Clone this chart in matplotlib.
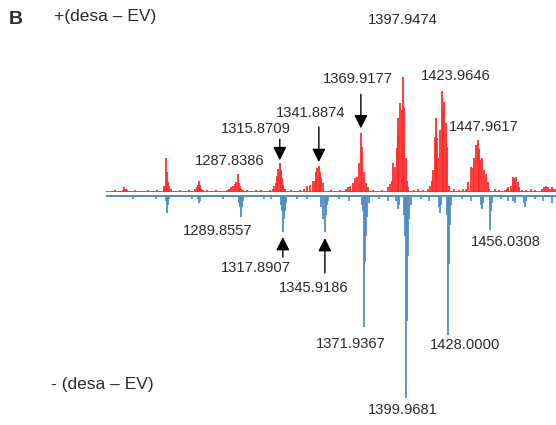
import matplotlib
matplotlib.use("Agg")
import matplotlib.pyplot as plt

plt.rcParams['font.family'] = ['Liberation Sans', 'DejaVu Sans']

# ---- upper trace: +(desa - EV), relative intensity (%) ----
pos_mz = [
    1211.0, 1212.3, 1213.0, 1214.0,
    1238.6, 1239.3, 1239.9, 1240.5, 1241.2, 1242.0, 1243.0,
    1259.6, 1260.4, 1261.3, 1262.0, 1262.7, 1263.5, 1264.5,
    1280.5, 1282.0, 1283.3, 1284.6, 1285.9, 1286.6, 1287.8386, 1288.5, 1289.3, 1290.3, 1291.5,
    1309.5, 1311.0, 1312.2, 1313.0, 1314.0, 1314.9, 1315.8709, 1316.6, 1317.3, 1318.2, 1319.3,
    1331.9, 1333.9, 1335.9, 1337.9, 1339.1, 1339.9, 1340.6, 1341.8874, 1342.6, 1343.6, 1344.9,
    1359.9, 1361.3, 1362.6, 1364.4, 1365.9, 1367.3, 1368.6, 1369.9177, 1370.8, 1371.9, 1373.3, 1374.6,
    1388.0, 1389.3, 1390.4, 1391.5, 1392.6, 1393.7, 1394.4, 1394.9, 1395.9, 1397.1, 1397.9474,
    1398.8, 1399.9, 1400.6, 1401.6,
    1414.8, 1416.0, 1417.1, 1418.2, 1419.3, 1420.0, 1420.8, 1421.5, 1422.6, 1423.9646,
    1424.8, 1425.6, 1426.4, 1427.5, 1428.6,
    1440.3, 1441.5, 1443.3, 1444.4, 1445.5, 1446.6, 1447.9617, 1448.6, 1449.5, 1450.6,
    1451.8, 1453.1, 1454.4, 1455.5,
    1466.0, 1467.3, 1468.2, 1469.9, 1471.1, 1471.7, 1472.2, 1473.3, 1474.4, 1475.5, 1477.0,
    1490.5, 1491.8, 1493.1, 1494.4, 1495.7, 1497.0, 1498.3,
]
pos_int = [
    2, 4, 3, 2,
    5, 5, 30, 17, 9, 5, 3,
    3, 4, 6, 10, 6, 3, 2,
    2, 3, 4, 5, 7, 9, 16, 8, 5, 3, 2,
    2, 3, 5, 8, 14, 20, 25, 19, 12, 6, 3,
    3, 5, 6, 10, 10, 17, 21, 23, 17, 12, 8,
    3, 4, 5, 8, 12, 13, 25, 51, 39, 17, 8, 4,
    4, 7, 10, 25, 22, 38, 50, 64, 77, 71, 100,
    73, 30, 10, 4,
    3, 5, 10, 19, 48, 64, 47, 30, 54, 88,
    70, 78, 60, 39, 5,
    3, 9, 22, 21, 30, 41, 45, 37, 28, 30,
    19, 16, 9, 3,
    2, 3, 4, 5, 13, 10, 12, 13, 9, 4, 2,
    3, 4, 5, 4, 3, 4, 3,
]
pos_noise_mz = [1203, 1206, 1209, 1216, 1219, 1222, 1225, 1228, 1231, 1234, 1246, 1249,
                1252, 1255, 1267, 1270, 1273, 1276, 1294, 1297, 1300, 1303, 1306, 1323,
                1326, 1329, 1350, 1353, 1356, 1378, 1381, 1384, 1405, 1408, 1411, 1432,
                1435, 1438, 1459, 1462, 1480, 1483, 1486, 1499]
pos_noise_int = [1, 2, 1, 1, 2, 1, 1, 2, 1, 2, 1, 2,
                 1, 2, 2, 1, 2, 1, 2, 1, 2, 2, 1, 2,
                 1, 2, 2, 1, 2, 2, 1, 2, 2, 3, 2, 3,
                 2, 3, 3, 2, 2, 3, 2, 3]

# ---- lower trace: -(desa - EV), relative intensity (%) ----
neg_mz = [
    1239.9, 1240.6, 1241.3, 1242.0,
    1261.3, 1262.0, 1262.7,
    1288.5, 1289.2, 1289.8557, 1290.5, 1291.3,
    1316.5, 1317.2, 1317.8907, 1318.6, 1319.4, 1320.2,
    1343.5, 1344.6, 1345.9186, 1346.6, 1347.3, 1348.3,
    1370.6, 1371.3, 1371.9367, 1372.6, 1373.3, 1374.0, 1375.0,
    1393.5, 1394.8, 1395.4,
    1398.6, 1399.3, 1399.9681, 1400.6, 1401.3, 1402.0, 1403.0,
    1422.0, 1422.6, 1423.3,
    1427.3, 1428.0000, 1428.7, 1429.4, 1430.3,
    1449.8, 1450.4, 1451.2,
    1456.0308, 1456.7, 1457.5,
    1471.5, 1472.5, 1478.5, 1479.5, 1480.3, 1497.0,
]
neg_int = [
    3, 9, 5, 2,
    2, 4, 3,
    4, 6, 11, 6, 3,
    5, 8, 18, 12, 8, 4,
    6, 12, 18, 10, 5, 3,
    5, 8, 65, 33, 20, 11, 4,
    3, 7, 5,
    10, 20, 100, 62, 30, 12, 5,
    6, 9, 5,
    10, 69, 34, 15, 5,
    5, 7, 4,
    17, 8, 4,
    3, 4, 4, 6, 3, 4,
]
neg_noise_mz = [1205, 1212, 1218, 1226, 1233, 1251, 1257, 1270, 1278, 1298, 1305, 1310,
                1327, 1334, 1355, 1362, 1382, 1388, 1410, 1415, 1437, 1443, 1463, 1468,
                1486, 1491]
neg_noise_int = [1, 1, 2, 1, 2, 1, 2, 1, 2, 1, 2, 2,
                 2, 2, 2, 3, 2, 3, 2, 3, 2, 3, 2, 3,
                 2, 3]

# labelled peaks: (m/z, text offset in pixels)
pos_labels = [(1397.9474, 0, 57), (1423.9646, 14, 15), (1447.9617, 6, 13),
              (1369.9177, -3, 54), (1341.8874, -8, 53), (1315.8709, -24, 34),
              (1287.8386, -8, 13)]
neg_labels = [(1289.8557, -23, -14), (1317.8907, -27, -36), (1345.9186, -11, -56),
              (1371.9367, -13, -17), (1399.9681, -3, -12), (1428.0000, 17, -10),
              (1456.0308, 16, -12)]
# arrowed peaks: (m/z, gap above/below the peak in px, arrow length in px)
pos_arrows = [(1315.8709, 3, 21), (1341.8874, 3.5, 35), (1369.9177, 5, 34)]
neg_arrows = [(1317.8907, 5.5, 20), (1345.9186, 6.5, 35)]

RED = '#FF2A2A'
BLUE = '#4F8FC4'
TXT = '#2B2B2B'
MZ_RANGE = (1200, 1500)

W, H = 556, 425
fig = plt.figure(figsize=(W / 100, H / 100), dpi=100)
fig.patch.set_facecolor('white')

ax_top = fig.add_axes([106 / W, 1 - 192 / H, 450 / W, 115 / H])
ax_bot = fig.add_axes([106 / W, 1 - 398 / H, 450 / W, 203 / H])

for ax in (ax_top, ax_bot):
    ax.set_xlim(*MZ_RANGE)
    ax.set_axis_off()
    ax.patch.set_alpha(0)

ax_top.set_ylim(0, 100)
ax_bot.set_ylim(100, 0)

ax_top.vlines(pos_noise_mz, 0, pos_noise_int, color=RED, lw=1.2)
ax_top.vlines(pos_mz, 0, pos_int, color=RED, lw=1.3)
ax_top.axhline(0, color=RED, lw=2.0)

ax_bot.vlines(neg_noise_mz, 0, neg_noise_int, color=BLUE, lw=1.2)
ax_bot.vlines(neg_mz, 0, neg_int, color=BLUE, lw=1.3)
ax_bot.axhline(0, color=BLUE, lw=2.2)


def peak_height(mzs, ints, target):
    return ints[mzs.index(target)]


for mz, dx, dy in pos_labels:
    h = peak_height(pos_mz, pos_int, mz)
    ax_top.annotate(f"{mz:.4f}", xy=(mz, h), xytext=(dx, dy),
                    textcoords='offset pixels', ha='center', va='center',
                    fontsize=10.6, color=TXT, annotation_clip=False)

for mz, dx, dy in neg_labels:
    h = peak_height(neg_mz, neg_int, mz)
    ax_bot.annotate(f"{mz:.4f}", xy=(mz, h), xytext=(dx, dy),
                    textcoords='offset pixels', ha='center', va='center',
                    fontsize=10.6, color=TXT, annotation_clip=False)

arrow_style = dict(arrowstyle='-|>,head_length=0.8,head_width=0.4', color='black',
                   lw=1.0, shrinkA=0)

for mz, gap, length in pos_arrows:
    h = peak_height(pos_mz, pos_int, mz)
    ax_top.annotate('', xy=(mz, h), xytext=(0, gap + length),
                    textcoords='offset pixels',
                    arrowprops=dict(arrow_style, shrinkB=gap * 0.72),
                    annotation_clip=False)

for mz, gap, length in neg_arrows:
    h = peak_height(neg_mz, neg_int, mz)
    ax_bot.annotate('', xy=(mz, h), xytext=(0, -(gap + length)),
                    textcoords='offset pixels',
                    arrowprops=dict(arrow_style, shrinkB=gap * 0.72),
                    annotation_clip=False)

fig.text(16 / W, 1 - 19 / H, 'B', fontsize=14, fontweight='bold', color=TXT,
         ha='center', va='center')
fig.text(105 / W, 1 - 17 / H, '+(desa \u2013 EV)', fontsize=12.5, color=TXT,
         ha='center', va='center')
fig.text(102 / W, 1 - 385 / H, '- (desa \u2013 EV)', fontsize=12.5, color=TXT,
         ha='center', va='center')

fig.savefig('out.png', dpi=100, facecolor='white')
